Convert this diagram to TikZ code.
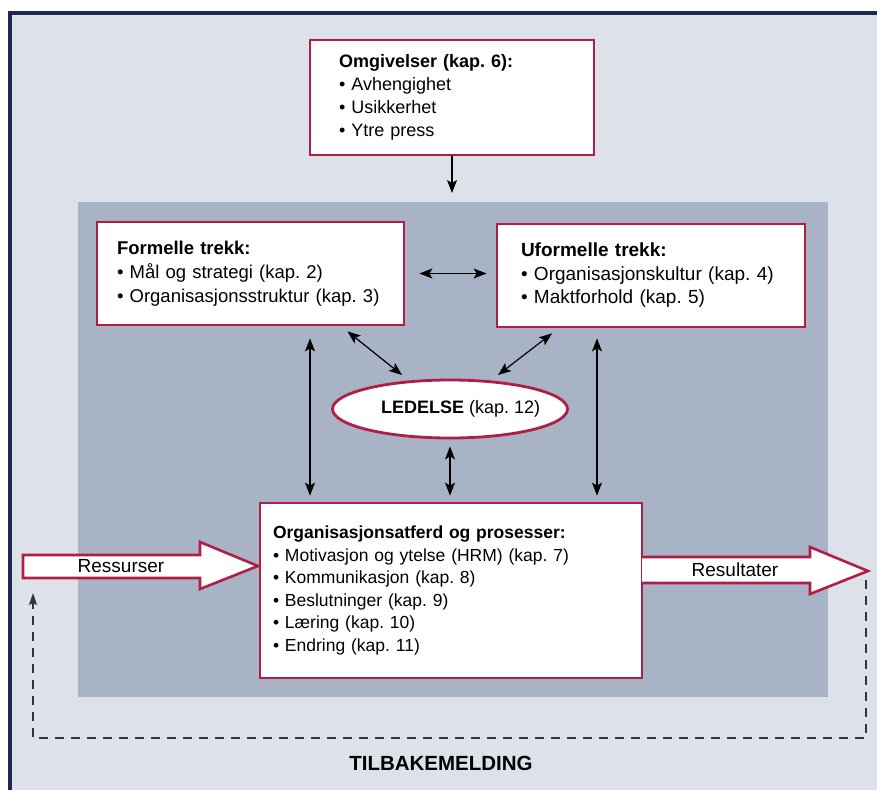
\documentclass[tikz,border=0pt]{standalone}
\usepackage{fontspec}
\setmainfont{Liberation Sans}
\usepackage{tikz}
\usetikzlibrary{arrows.meta,positioning,calc,shapes.geometric}
\definecolor{navy}{HTML}{1E2850}
\definecolor{paper}{HTML}{DDE2EA}
\definecolor{panel}{HTML}{A9B3C6}
\definecolor{crimson}{HTML}{B11E45}
\definecolor{fbgray}{HTML}{2E3440}

\begin{document}
\frenchspacing
\begin{tikzpicture}[x=1pt,y=-1pt,>=Stealth,
  kbox/.style={draw=crimson,line width=2.8pt,fill=white,align=left,
    font=\fontsize{17.5}{23}\selectfont},
  dbl/.style={{Stealth[length=13pt,width=10pt,inset=3pt]}-{Stealth[length=13pt,width=10pt,inset=3pt]},line width=1.2pt},
  one/.style={-{Stealth[length=13pt,width=10pt,inset=3pt]},line width=1.2pt},
  bigarrow/.style={draw=crimson,line width=2.6pt,fill=white,line join=miter},
  feedback/.style={fbgray,line width=1.5pt,dash pattern=on 9pt off 7pt,
    -{Stealth[length=12pt,width=8pt,inset=2pt]}}]
  \useasboundingbox (0,0) rectangle (877,790);
  % page and panel
  \fill[white] (0,0) rectangle (877,790);
  \fill[paper] (10,13) rectangle (877,790);
  \draw[navy,line width=4pt] (10,790) -- (10,13) -- (877,13);
  \fill[panel] (78,202) rectangle (828,697);

  % boxes
  \node[kbox,minimum width=284pt,minimum height=115pt,inner xsep=29pt,text width=226pt,
    font=\fontsize{18}{23}\selectfont] (omg) at (452,97.5)
    {\textbf{Omgivelser (kap. 6):}\\\textbullet\ Avhengighet\\\textbullet\ Usikkerhet\\\textbullet\ Ytre press};
  \node[kbox,minimum width=307pt,minimum height=103pt,inner xsep=20pt,text width=267pt,
    font=\fontsize{18.5}{24}\selectfont] (formelle) at (250.5,273.5)
    {\textbf{Formelle trekk:}\\\textbullet\ Mål og strategi (kap. 2)\\\textbullet\ Organisasjonsstruktur (kap. 3)};
  \node[kbox,minimum width=308pt,minimum height=103pt,inner xsep=24pt,text width=260pt,
    font=\fontsize{19}{23.5}\selectfont] (uformelle) at (651,275.5)
    {\textbf{Uformelle trekk:}\\\textbullet\ Organisasjonskultur (kap. 4)\\\textbullet\ Maktforhold (kap. 5)};
  \node[kbox,ellipse,align=center,minimum width=235pt,minimum height=58pt,inner sep=0pt,
    font=\fontsize{18}{23}\selectfont] (ledelse) at (450,409)
    {\makebox[160pt][l]{\hspace{11pt}\textbf{LEDELSE} (kap. 12)}};
  \node[kbox,minimum width=382pt,minimum height=175pt,inner xsep=13pt,text width=356pt,
    font=\fontsize{17.5}{22.5}\selectfont] (org) at (451,590.5)
    {\textbf{Organisasjonsatferd og prosesser:}\\\textbullet\ Motivasjon og ytelse (HRM) (kap. 7)\\
     \textbullet\ Kommunikasjon (kap. 8)\\\textbullet\ Beslutninger (kap. 9)\\
     \textbullet\ Læring (kap. 10)\\\textbullet\ Endring (kap. 11)};

  % in and out
  \draw[bigarrow] (23,555) -- (200,555) -- (200,542) -- (258,566) -- (200,589) -- (200,578) -- (23,578) -- cycle;
  \node[font=\fontsize{19}{23}\selectfont] (ressurser) at (121,566) {Ressurser};
  \draw[bigarrow] (642,557) -- (810,557) -- (810,547) -- (868,571) -- (810,594) -- (810,583) -- (642,583);
  \node[font=\fontsize{19}{23}\selectfont] (resultater) at (735,570) {Resultater};

  % links
  \coordinate (omgend) at (452,193);
  \draw[one] (omg) -- (omgend);
  \draw[dbl] ($(formelle.east)+(14,0)$) -- ($(uformelle.west)+(-9,-2)$);
  \draw[dbl] ($(formelle.south)+(97,5)$) -- ($(ledelse.center)+(-48,-34)$);
  \draw[dbl] ($(uformelle.south)+(-99,5)$) -- ($(ledelse.center)+(48,-34)$);
  \draw[dbl] ($(formelle.south)+(59.5,12)$) -- ($(org.north)+(-141,-6)$);
  \draw[dbl] ($(uformelle.south)+(-54,10)$) -- ($(org.north)+(146,-6)$);
  \draw[dbl] ($(ledelse.south)+(0,7)$) -- ($(org.north)+(-1,-6)$);

  % feedback loop
  \coordinate (fbtop) at (866,580);
  \coordinate (fbcorner) at (866,738);
  \coordinate (fbend) at (33,593);
  \draw[feedback] (fbtop) -- (fbcorner) -| (fbend);
  \node[font=\fontsize{20.5}{24}\selectfont\bfseries] (tilbake) at (441,763) {TILBAKEMELDING};
\end{tikzpicture}
\end{document}
